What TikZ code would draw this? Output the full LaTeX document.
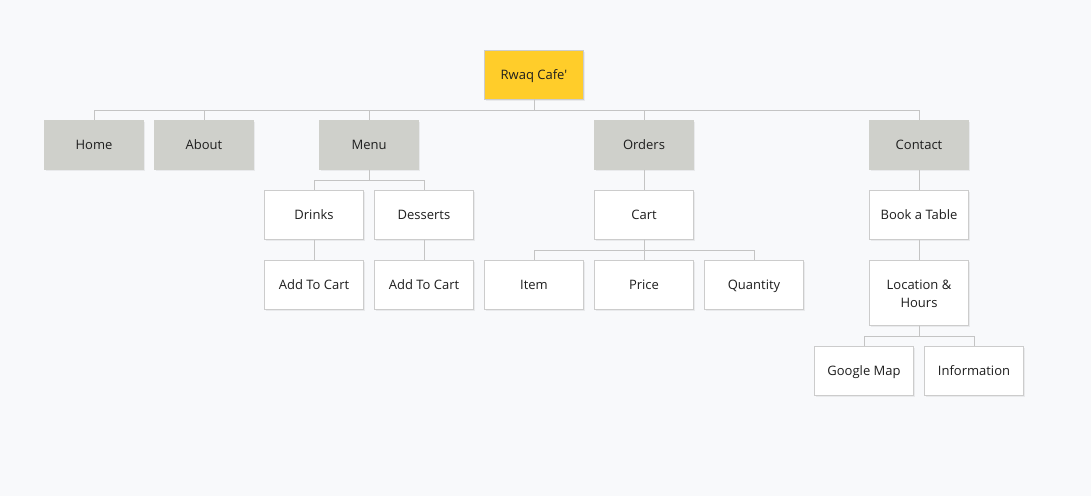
\documentclass[tikz,border=0pt]{standalone}
\usepackage{fontspec}
\setmainfont{Open Sans}
\usetikzlibrary{shadows}
\definecolor{bg}{HTML}{F8F9FB}
\definecolor{rootfill}{HTML}{FFCD2A}
\definecolor{grayfill}{HTML}{CFD0CB}
\definecolor{boxline}{HTML}{CCCCCC}
\definecolor{conn}{HTML}{C4C4C4}
\definecolor{txt}{HTML}{1E1E1E}
\tikzset{
  box/.style={draw=boxline, line width=1pt, minimum width=99pt, minimum height=49pt,
    inner sep=2pt, align=center, text=txt, font=\fontsize{13}{18}\selectfont,
    drop shadow={opacity=0.12, shadow xshift=1pt, shadow yshift=-1.5pt}},
  line/.style={text height=11pt, text depth=1pt},
  rootbox/.style={box, line, fill=rootfill},
  topbox/.style={box, line, fill=grayfill, draw=grayfill},
  leafbox/.style={box, line, fill=white},
  tallbox/.style={box, fill=white, minimum height=65pt},
  conn/.style={draw=conn, line width=1pt},
}
\begin{document}
\begin{tikzpicture}[x=1pt,y=-1pt]
\fill[bg] (0,0) rectangle (1091,496);
\useasboundingbox (0,0) rectangle (1091,496);
% nodes
\node[rootbox] (root) at (534,74.5) {Rwaq Cafe\textquotesingle};
\node[topbox] (home) at (94,144.5) {Home};
\node[topbox] (about) at (204,144.5) {About};
\node[topbox] (menu) at (369,144.5) {Menu};
\node[topbox] (orders) at (644,144.5) {Orders};
\node[topbox] (contact) at (919,144.5) {Contact};
\node[leafbox] (drinks) at (314,214.5) {Drinks};
\node[leafbox] (desserts) at (424,214.5) {Desserts};
\node[leafbox] (cart) at (644,214.5) {Cart};
\node[leafbox] (book) at (919,214.5) {Book a Table};
\node[leafbox] (add1) at (314,284.5) {Add To Cart};
\node[leafbox] (add2) at (424,284.5) {Add To Cart};
\node[leafbox] (item) at (534,284.5) {Item};
\node[leafbox] (price) at (644,284.5) {Price};
\node[leafbox] (qty) at (754,284.5) {Quantity};
\node[tallbox] (loc) at (919,292.5) {\rule{0pt}{13pt}Location \&\\Hours};
\node[leafbox] (gmap) at (864,370.5) {Google Map};
\node[leafbox] (info) at (974,370.5) {Information};
% connectors
\coordinate (b1) at (534,110);
\foreach \c in {home,about,menu,orders,contact}{
  \draw[conn] (root.south) -- (b1) -| (\c.north);
}
\coordinate (b2) at (369,180);
\foreach \c in {drinks,desserts}{
  \draw[conn] (menu.south) -- (b2) -| (\c.north);
}
\draw[conn] (orders.south) -- (cart.north);
\draw[conn] (drinks.south) -- (add1.north);
\draw[conn] (desserts.south) -- (add2.north);
\coordinate (b3) at (644,250);
\foreach \c in {item,price,qty}{
  \draw[conn] (cart.south) -- (b3) -| (\c.north);
}
\draw[conn] (contact.south) -- (book.north);
\draw[conn] (book.south) -- (loc.north);
\coordinate (b4) at (919,336);
\foreach \c in {gmap,info}{
  \draw[conn] (loc.south) -- (b4) -| (\c.north);
}
\end{tikzpicture}
\end{document}
